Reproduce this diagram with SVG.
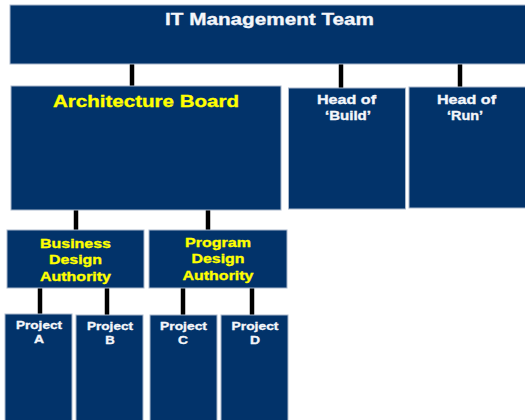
<svg xmlns="http://www.w3.org/2000/svg" width="525" height="420" viewBox="0 0 525 420">
<style>
.box{fill:#02336a;stroke:#a9b8cc;stroke-width:1}
.w{fill:#f4f6fa;stroke:#f4f6fa;stroke-width:0.35;font-family:"Liberation Sans",Arial,sans-serif;font-weight:bold;text-anchor:middle}
.y{fill:#ffff00;stroke:#ffff00;stroke-width:0.35;font-family:"Liberation Sans",Arial,sans-serif;font-weight:bold;text-anchor:middle}
.c{stroke:#000;stroke-width:4.5;fill:none}
</style>
<rect width="525" height="420" fill="#fff"/>
<g id="connectors">
<line class="c" x1="132" y1="64" x2="132" y2="87"/>
<line class="c" x1="341" y1="64" x2="341" y2="88"/>
<line class="c" x1="460" y1="64" x2="460" y2="88"/>
<line class="c" x1="76" y1="210" x2="76" y2="231"/>
<line class="c" x1="208" y1="210" x2="208" y2="231"/>
<line class="c" x1="40" y1="288" x2="40" y2="315"/>
<line class="c" x1="107" y1="288" x2="107" y2="315"/>
<line class="c" x1="183" y1="288" x2="183" y2="315"/>
<line class="c" x1="252" y1="288" x2="252" y2="315"/>
</g>
<g id="it-management-team">
<rect class="box" x="10" y="5" width="520" height="59"/>
<text class="w" x="269.5" y="24.5" font-size="17" textLength="209" lengthAdjust="spacingAndGlyphs">IT Management Team</text>
</g>
<g id="architecture-board">
<rect class="box" x="11" y="86" width="270" height="124"/>
<text class="y" x="146" y="107" font-size="17" textLength="186" lengthAdjust="spacingAndGlyphs">Architecture Board</text>
</g>
<g id="head-build">
<rect class="box" x="288.5" y="88" width="117" height="121"/>
<text class="w" x="346.5" y="104" font-size="12.5" textLength="59" lengthAdjust="spacingAndGlyphs">Head of</text>
<text class="w" x="348" y="120" font-size="12.5" textLength="46" lengthAdjust="spacingAndGlyphs">‘Build’</text>
</g>
<g id="head-run">
<rect class="box" x="409" y="87" width="120" height="121"/>
<text class="w" x="466.5" y="104" font-size="12.5" textLength="59" lengthAdjust="spacingAndGlyphs">Head of</text>
<text class="w" x="465" y="120" font-size="12.5" textLength="36" lengthAdjust="spacingAndGlyphs">‘Run’</text>
</g>
<g id="business-design-authority">
<rect class="box" x="7" y="230" width="137" height="58"/>
<text class="y" x="75.5" y="247.5" font-size="13" textLength="71" lengthAdjust="spacingAndGlyphs">Business</text>
<text class="y" x="75.5" y="264" font-size="13" textLength="53" lengthAdjust="spacingAndGlyphs">Design</text>
<text class="y" x="75.5" y="281" font-size="13" textLength="71" lengthAdjust="spacingAndGlyphs">Authority</text>
</g>
<g id="program-design-authority">
<rect class="box" x="149" y="230" width="138" height="58"/>
<text class="y" x="218" y="246.5" font-size="13" textLength="66" lengthAdjust="spacingAndGlyphs">Program</text>
<text class="y" x="218" y="263" font-size="13" textLength="53" lengthAdjust="spacingAndGlyphs">Design</text>
<text class="y" x="218" y="280" font-size="13" textLength="71" lengthAdjust="spacingAndGlyphs">Authority</text>
</g>
<g id="project-a">
<rect class="box" x="5" y="314" width="67" height="110"/>
<text class="w" x="39" y="328.5" font-size="11.5" textLength="46" lengthAdjust="spacingAndGlyphs">Project</text>
<text class="w" x="39" y="343" font-size="11.5" textLength="10" lengthAdjust="spacingAndGlyphs">A</text>
</g>
<g id="project-b">
<rect class="box" x="76" y="315" width="67" height="110"/>
<text class="w" x="110" y="329.5" font-size="11.5" textLength="46" lengthAdjust="spacingAndGlyphs">Project</text>
<text class="w" x="110" y="343.5" font-size="11.5" textLength="9.5" lengthAdjust="spacingAndGlyphs">B</text>
</g>
<g id="project-c">
<rect class="box" x="150" y="315" width="67" height="110"/>
<text class="w" x="183.5" y="329.5" font-size="11.5" textLength="47" lengthAdjust="spacingAndGlyphs">Project</text>
<text class="w" x="183" y="343.5" font-size="11.5" textLength="10" lengthAdjust="spacingAndGlyphs">C</text>
</g>
<g id="project-d">
<rect class="box" x="221" y="315" width="67" height="110"/>
<text class="w" x="255" y="329.5" font-size="11.5" textLength="47" lengthAdjust="spacingAndGlyphs">Project</text>
<text class="w" x="255" y="343.5" font-size="11.5" textLength="10" lengthAdjust="spacingAndGlyphs">D</text>
</g>
</svg>
